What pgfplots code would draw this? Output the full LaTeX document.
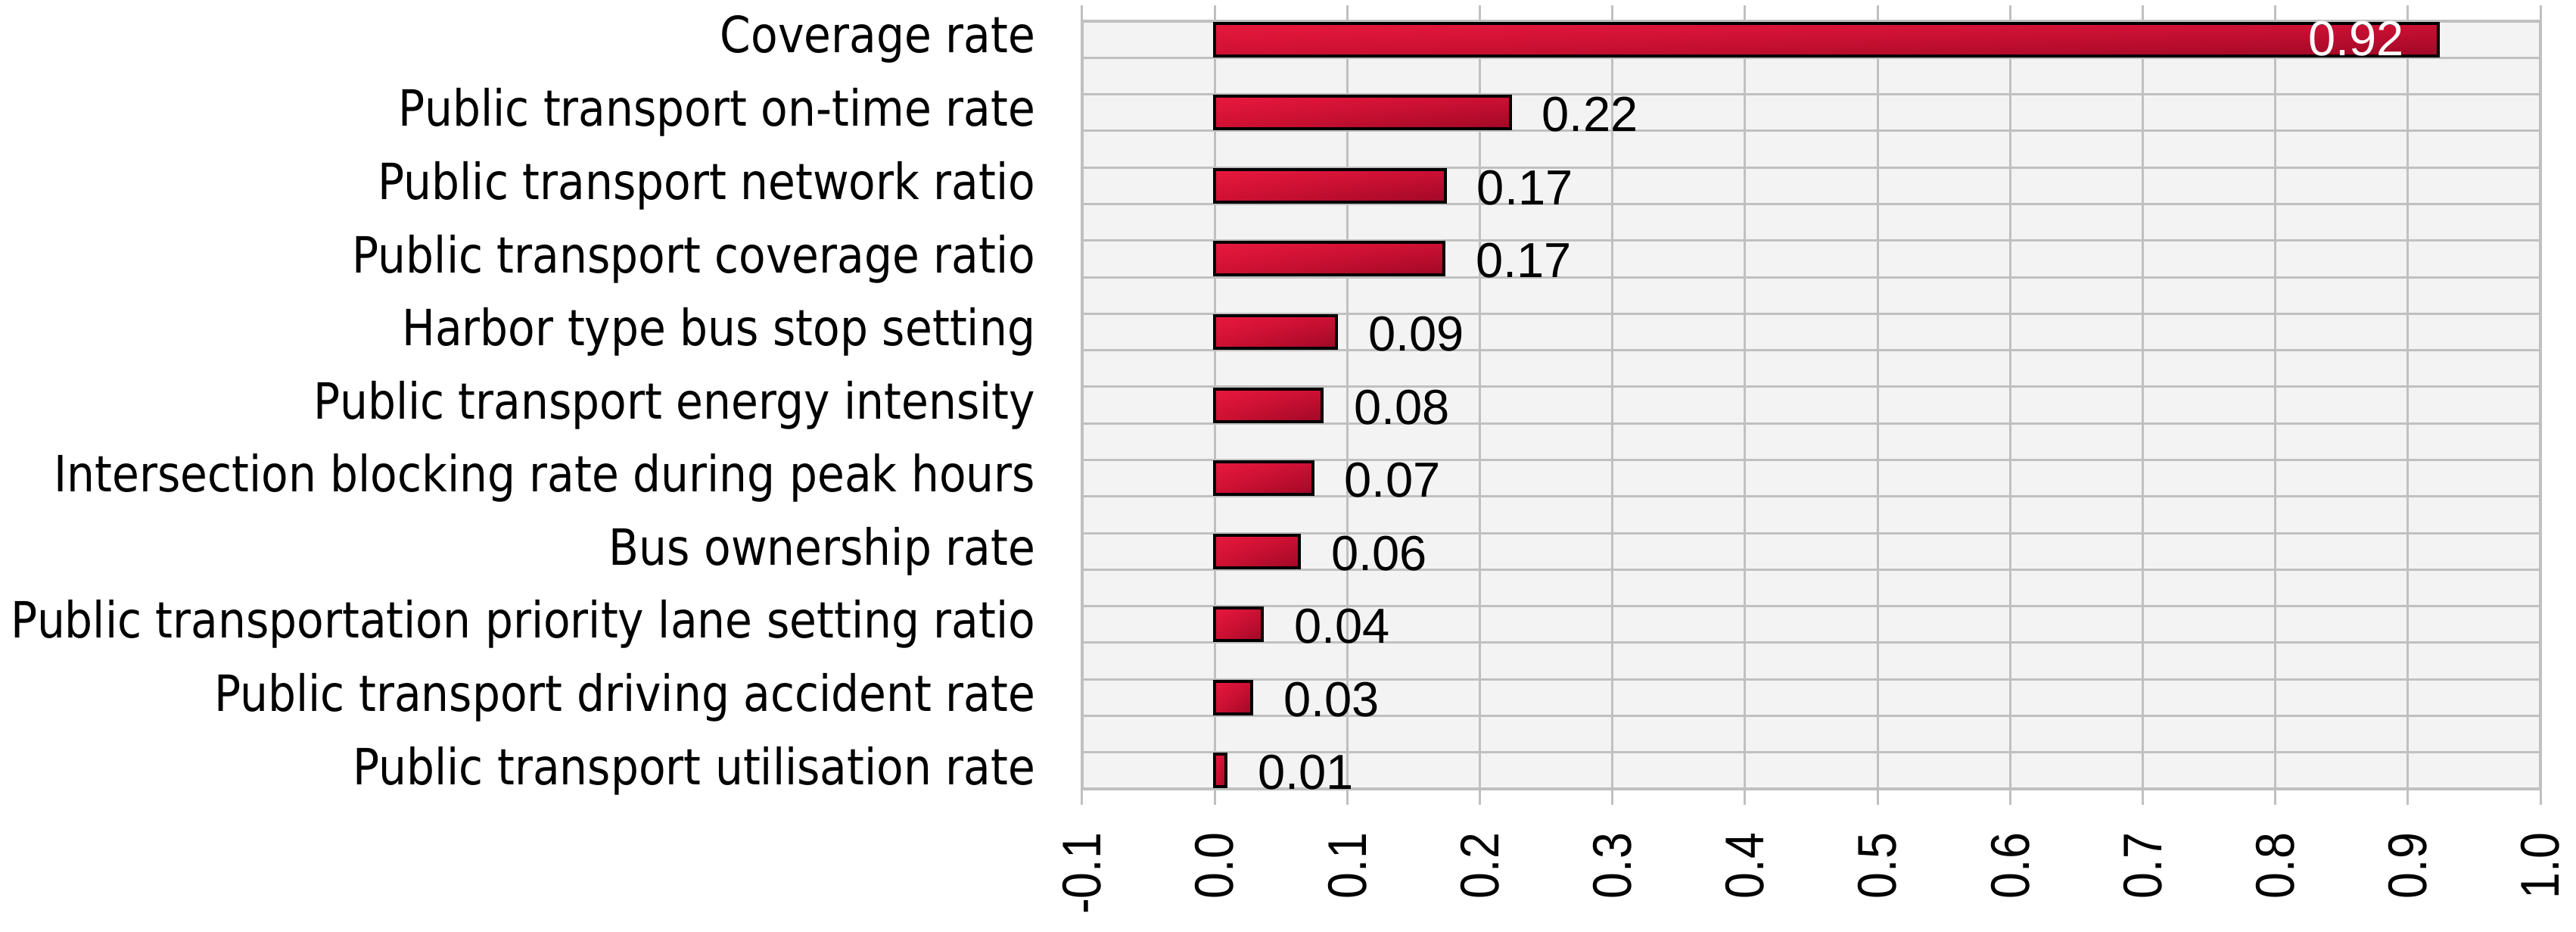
\documentclass[border=0pt]{standalone}
\usepackage{pgfplots}
\pgfplotsset{compat=1.18}
\usetikzlibrary{shadings}
\usepackage{fontspec}
\setmainfont{Liberation Sans}
\newfontfamily\catfont[FakeStretch=0.883]{DejaVu Sans}
\newfontfamily\tickfont[FakeStretch=0.87]{Liberation Sans}
\definecolor{gridgray}{RGB}{192,192,192}
\definecolor{bgray}{RGB}{243,243,243}
\definecolor{barUL}{RGB}{232,24,62}
\definecolor{barUR}{RGB}{205,16,52}
\definecolor{barLL}{RGB}{205,16,50}
\definecolor{barLR}{RGB}{160,8,38}
\pgfplotsset{
  mybar/.style={xbar, bar width=6.45bp, bar shift=0pt, draw=black, line width=0.6bp,
    upper left=barUL, upper right=barUR, lower left=barLL, lower right=barLR},
}
\begin{document}
\begin{tikzpicture}
\begin{axis}[
  at={(0,0)}, anchor=south west,
  scale only axis,
  width=289.05bp, height=152.1bp,
  xmin=-0.1, xmax=1.0,
  ymin=-0.25, ymax=10.25,
  y dir=reverse,
  xtick={-0.1,0,0.1,0.2,0.3,0.4,0.5,0.6,0.7,0.8,0.9,1.0},
  ytick={0,...,10},
  yticklabels={Coverage rate,Public transport on-time rate,Public transport network ratio,Public transport coverage ratio,Harbor type bus stop setting,Public transport energy intensity,Intersection blocking rate during peak hours,Bus ownership rate,Public transportation priority lane setting ratio,Public transport driving accident rate,Public transport utilisation rate},
  minor ytick={-0.25,0.25,...,10.25},
  xmajorgrids=true, ymajorgrids=false, yminorgrids=true,
  major grid style={draw=gridgray, line width=0.45bp},
  minor grid style={draw=gridgray, line width=0.45bp},
  axis line style={draw=gridgray, line width=0.5bp},
  axis background/.style={fill=bgray},
  tick align=outside,
  major tick length=3.1bp,
  xtick style={draw=gridgray, line width=0.45bp},
  ytick style={draw=none},
  /pgf/number format/assume math mode=true,
  xticklabel={\pgfmathprintnumber[fixed,fixed zerofill,precision=1]{\tick}},
  xticklabel style={font=\tickfont\fontsize{10.8bp}{12bp}\selectfont, yshift=-5.4bp, rotate=90, anchor=east, inner sep=0pt},
  yticklabel style={font=\catfont\fontsize{9.9bp}{11bp}\selectfont, anchor=east, inner sep=0pt, xshift=-6bp},
  point meta=x,
  nodes near coords={\pgfmathprintnumber[fixed,fixed zerofill,precision=2]{\pgfplotspointmeta}},
  every node near coord/.append style={font=\fontsize{9.75bp}{11bp}\selectfont, anchor=west, inner sep=0pt, xshift=6bp, yshift=-0.4bp},
  clip=false,
]
\addplot[mybar, every node near coord/.append style={anchor=east, xshift=-12.45bp, yshift=0.6bp, text=white}]
  coordinates {(0.923,0)};
\addplot[mybar] coordinates {(0.223,1)};
\addplot[mybar] coordinates {(0.174,2)};
\addplot[mybar] coordinates {(0.173,3)};
\addplot[mybar] coordinates {(0.092,4)};
\addplot[mybar] coordinates {(0.081,5)};
\addplot[mybar] coordinates {(0.074,6)};
\addplot[mybar] coordinates {(0.064,7)};
\addplot[mybar] coordinates {(0.036,8)};
\addplot[mybar] coordinates {(0.028,9)};
\addplot[mybar] coordinates {(0.0085,10)};
\end{axis}
\pgfresetboundingbox
\path (-214.5bp,-28.35bp) rectangle (296.1bp,156.3bp);
\end{tikzpicture}
\end{document}
